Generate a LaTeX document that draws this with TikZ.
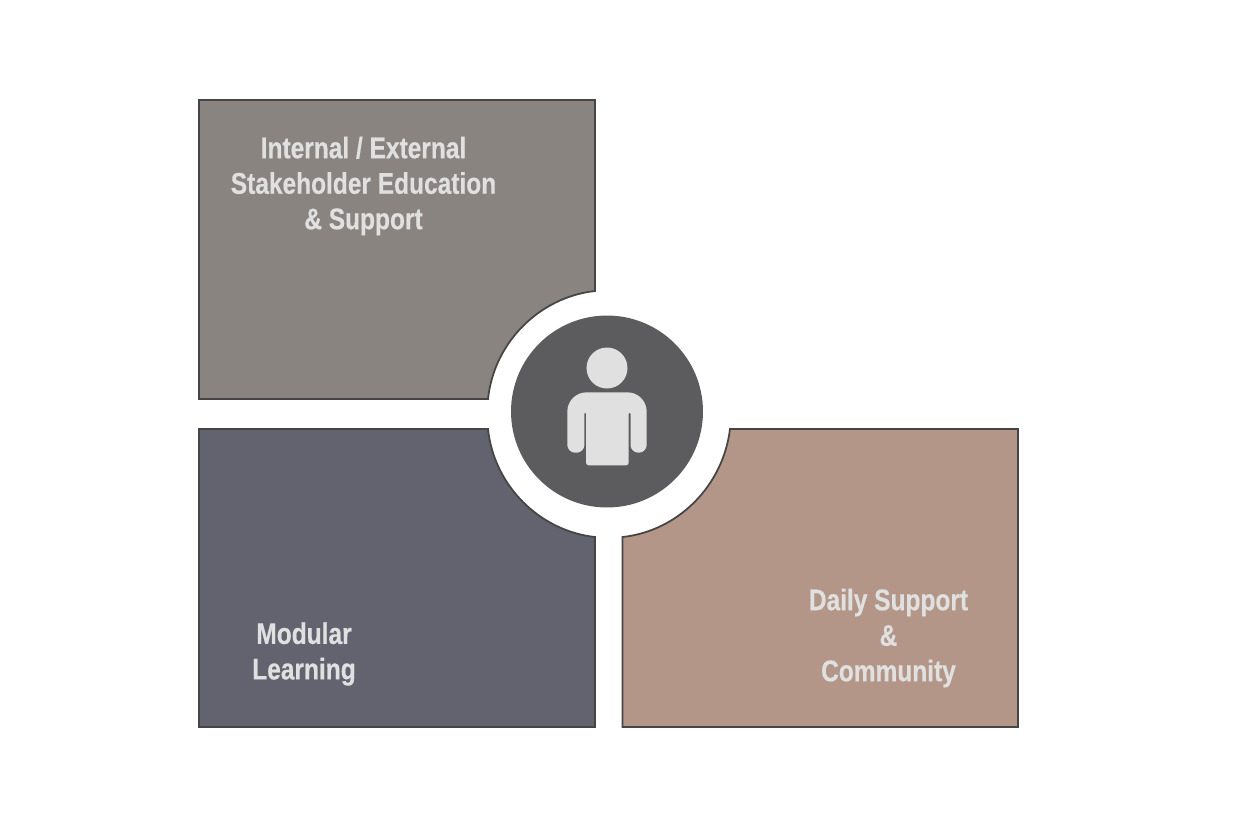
\documentclass[tikz,border=0pt]{standalone}
\usepackage{fontspec}
\newfontfamily\lblfont[FakeStretch=0.82,FakeBold=0.4]{Liberation Sans}
\definecolor{cardgray}{HTML}{8A8480}
\definecolor{cardslate}{HTML}{62636F}
\definecolor{cardtan}{HTML}{B39687}
\definecolor{hubgray}{HTML}{5C5C5E}
\definecolor{paleink}{HTML}{E0E0E0}
\definecolor{edgeink}{HTML}{454545}
\begin{document}
\begin{tikzpicture}[x=.02cm,y=-.02cm]
  %--------------------------------------------
  % Styles
  %--------------------------------------------
  \tikzstyle{card} = [draw=edgeink, line width=1pt, line join=miter]
  \tikzstyle{lbl} = [
    text=paleink, align=center, inner sep=0pt,
    font=\lblfont\bfseries\fontsize{17}{20.2}\selectfont
  ]
  \useasboundingbox (0,0) rectangle (1235,823);

  %--------------------------------------------
  % Four cards around the hub
  %--------------------------------------------
  \draw[card, fill=cardgray] (199,100) -- (595,100) -- (595,291)
    .. controls (540,297) and (494,342) .. (488,399) -- (199,399) -- cycle;
  \draw[card, fill=cardslate] (199,429) -- (488,429)
    .. controls (494,486) and (540,531) .. (595,537) -- (595,727) -- (199,727) -- cycle;
  \draw[card, fill=cardtan] (730,429) -- (1018,429) -- (1018,727) -- (622.5,727) -- (622.5,537)
    .. controls (678,531) and (723,486) .. (730,429) -- cycle;

  %--------------------------------------------
  % Hub and person
  %--------------------------------------------
  \node[circle, fill=hubgray, minimum size=3.84cm, inner sep=0pt] (hub) at (607,411.5) {};
  \node[circle, fill=paleink, minimum size=.82cm, inner sep=0pt] (head) at (607,368) {};
  \fill[paleink, rounded corners=.5pt] (586,412.7) [rounded corners=1.5pt] -- (586,465.3) -- (628.7,465.3)
    [rounded corners=.5pt] -- (628.7,412.7)
    -- (630.5,412.7) [rounded corners=4.5pt] -- (630.5,452.7) -- (646.7,452.7)
    [rounded corners=11pt] -- (646.7,392.3) -- (567.3,392.3)
    [rounded corners=4.5pt] -- (567.3,452.7) -- (584.4,452.7)
    [rounded corners=.5pt] -- (584.4,412.7) -- cycle;

  %--------------------------------------------
  % Labels
  %--------------------------------------------
  \node[lbl] (education) at (363.5,186) {Internal / External\\Stakeholder Education\\\& Support};
  \node[lbl] (modular) at (304,654) {Modular\\Learning};
  \node[lbl] (daily) at (888.5,638) {Daily Support\\\&\\Community};
\end{tikzpicture}
\end{document}
